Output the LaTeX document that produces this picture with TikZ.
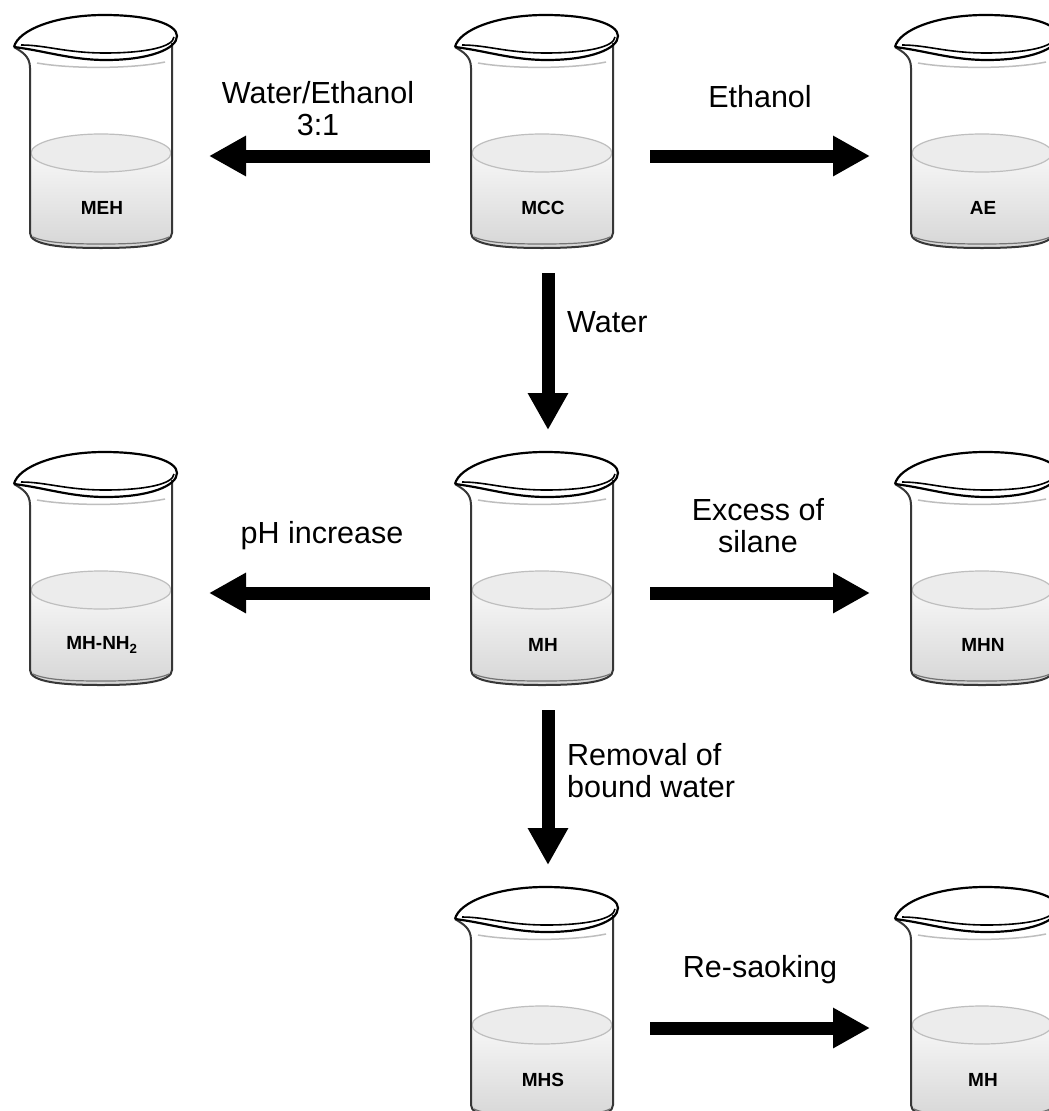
\documentclass[tikz,border=0pt]{standalone}
\usepackage{fontspec}
\setmainfont{Liberation Sans}
\usetikzlibrary{arrows.meta}
\definecolor{glass}{RGB}{55,55,55}
\definecolor{liquidtop}{RGB}{247,247,247}
\definecolor{liquidlow}{RGB}{214,214,214}
\definecolor{surface}{RGB}{236,236,236}
\definecolor{faint}{RGB}{190,190,190}

\begin{document}
\begin{tikzpicture}[x=1pt, y=-1pt,
  lbl/.style={font=\fontsize{30.5}{32}\selectfont, align=center, inner sep=0pt},
  tag/.style={font=\fontsize{19}{20}\selectfont\bfseries, inner sep=0pt},
  arr/.style={line width=13pt, -{Triangle[length=37pt, width=38pt]}},
  beaker/.pic={
    % liquid
    \shade[top color=liquidtop, bottom color=liquidlow]
      (-71,138) -- (-71,218) .. controls (-71,230) and (-40,233) .. (0,233)
      .. controls (40,233) and (71,230) .. (71,218) -- (71,138) -- cycle;
    \filldraw[fill=surface, draw=faint, line width=1.2pt] (0,138) ellipse [x radius=70, y radius=19];
    % back edge of the rim seen through the glass
    \draw[faint, line width=1.5pt] (-64,48) .. controls (-30,54) and (30,54) .. (64,47);
    % walls and bottom
    \draw[glass, line width=2pt] (-87,32) .. controls (-79,37) and (-71,41) .. (-71,53) -- (-71,218)
      .. controls (-71,230) and (-40,233) .. (0,233) .. controls (40,233) and (71,230) .. (71,218) -- (71,28);
    \draw[glass!70, line width=1.2pt] (-68,222) .. controls (-55,228) and (-30,229) .. (0,229)
      .. controls (30,229) and (55,228) .. (68,222);
    % rim and spout
    \draw[line width=2.2pt, line join=round] (-87,32) .. controls (-83,15) and (-45,0) .. (3,0)
      .. controls (48,0) and (76,9) .. (76,21) .. controls (76,34) and (48,45) .. (5,45)
      .. controls (-30,45) and (-55,36) .. (-87,32);
    \draw[line width=1.6pt] (-80,30) .. controls (-55,30) and (-35,38) .. (4,38)
      .. controls (45,38) and (72,32) .. (73,22);
    \node[tag] (-tag) at (1,193) {#1};
    \coordinate (-w) at (-112,141);
    \coordinate (-e) at (108,141);
    \coordinate (-n) at (6,-22);
    \coordinate (-s) at (6,258);
  }]
  \fill[white] (0,0) rectangle (1049,1111);
  \useasboundingbox (0,0) rectangle (1049,1111);
  \clip (0,0) rectangle (1049,1111);

  % beakers
  \pic (meh) at (101,15) {beaker=MEH};
  \pic (mcc) at (542,15) {beaker=MCC};
  \pic (ae) at (982,15) {beaker=AE};
  \pic (mhnh) at (101,452) {beaker={MH-NH\textsubscript{2}}};
  \pic (mh) at (542,452) {beaker=MH};
  \pic (mhn) at (982,452) {beaker=MHN};
  \pic (mhs) at (542,887) {beaker=MHS};
  \pic (mhre) at (982,887) {beaker=MH};

  % arrows
  \draw[arr] (mcc-w) -- (meh-e);
  \draw[arr] (mcc-e) -- (ae-w);
  \draw[arr] (mcc-s) -- (mh-n);
  \draw[arr] (mh-w) -- (mhnh-e);
  \draw[arr] (mh-e) -- (mhn-w);
  \draw[arr] (mh-s) -- (mhs-n);
  \draw[arr] (mhs-e) -- (mhre-w);

  % labels (multi-line ones sit on their last baseline)
  \node[lbl, anchor=base] (wateth) at (318,135) {Water/Ethanol\\3:1};
  \node[lbl, anchor=base] (eth) at (760,107) {Ethanol};
  \node[lbl, anchor=base west] (water) at (567,332) {Water};
  \node[lbl, anchor=base] (ph) at (322,543) {pH increase};
  \node[lbl, anchor=base] (excess) at (758,552) {Excess of\\silane};
  \node[lbl, anchor=base west, align=left] (removal) at (567,797) {Removal of\\bound water};
  \node[lbl, anchor=base] (resoak) at (760,977) {Re-saoking};
\end{tikzpicture}
\end{document}
